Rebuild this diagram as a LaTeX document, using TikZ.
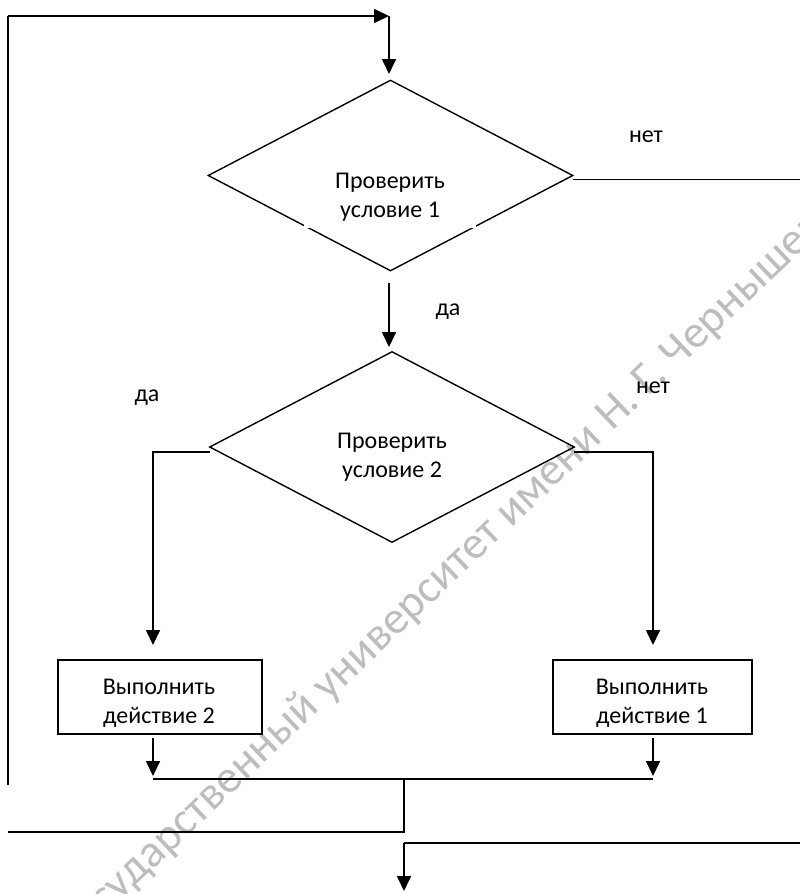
\documentclass[tikz,border=0pt]{standalone}
\usepackage{fontspec}
\setmainfont{Carlito}
\usetikzlibrary{shapes.geometric,arrows.meta,calc}
\begin{document}
\begin{tikzpicture}[x=1pt,y=-1pt,
  line/.style={line width=1.7pt},
  arr/.style={line width=1.7pt,-{Triangle[length=15pt,width=14pt]}},
  cond/.style={diamond,draw,line width=1.4pt,minimum width=365pt,minimum height=191pt,inner sep=0pt},
  act/.style={rectangle,draw,line width=1.7pt,minimum height=74pt},
  lbl/.style={font=\fontsize{24}{29}\selectfont},
  txt/.style={align=center,inner sep=0pt,font=\fontsize{24}{29}\selectfont},
  wm/.style={rotate=43.6,text=black!26,inner sep=0pt,font=\fontsize{46}{46}\selectfont}
]
\useasboundingbox (0,0) rectangle (800,894);
\fill[white] (0,0) rectangle (800,894);

% watermark
\begin{scope}
\clip (0,0) rectangle (800,894);
\node[wm,anchor=base west] (wm2) at (612,432) {Н. Г. Чернышевского};
\node[wm,anchor=base east] (wm1) at (604,440) {Саратовский государственный университет имени};
\end{scope}

% decision 1
\node[cond] (d1) at (390.5,175.5) {};
\fill[white] (304,150) rectangle (476,228);
\node[txt] (t1) at (390,197) {Проверить\\условие 1};

% decision 2
\node[cond] (d2) at (392,447) {};
\node[txt] (t2) at (392,457) {Проверить\\условие 2};

% actions
\node[act,minimum width=204pt] (b2) at (160,697) {};
\node[txt] (b2t) at (159,703) {Выполнить\\действие 2};
\node[act,minimum width=199pt] (b1) at (652.5,697) {};
\node[txt] (b1t) at (652,703) {Выполнить\\действие 1};

% labels
\node[lbl] (no1) at (646,137) {нет};
\node[lbl] (yes1) at (448,312) {да};
\node[lbl] (yes2) at (147,398) {да};
\node[lbl] (no2) at (653,388) {нет};

% loop back at top
\coordinate (lb) at (8,785);
\coordinate (lt) at (8,16);
\coordinate (top) at (389,16);
\coordinate (in1) at (389,74);
\draw[line] (lb) -- (lt);
\draw[arr] (lt) -- (top);
\draw[arr] (top) -- (in1);

% d1 no -> right
\coordinate (d1r) at ($(d1.east)+(-1,4)$);
\coordinate (r1) at (800,179);
\draw[line] (d1r) -- (d1r -| r1);

% d1 yes -> d2
\coordinate (a1s) at (389,283);
\coordinate (a1e) at (389,347);
\draw[arr] (a1s) -- (a1e);

% d2 branches
\coordinate (d2l) at ($(d2.west)+(1,5)$);
\coordinate (d2r) at ($(d2.east)+(-1,5)$);
\coordinate (l2) at (153,645);
\coordinate (r2) at (653,645);
\draw[arr] (d2l) -| (l2);
\draw[arr] (d2r) -| (r2);

% from boxes to junction
\coordinate (l3s) at (153,738);
\coordinate (l3) at (153,776);
\coordinate (r3s) at (653,738);
\coordinate (r3) at (653,776);
\draw[arr] (l3s) -- (l3);
\draw[arr] (r3s) -- (r3);

\coordinate (jl) at (153,779);
\coordinate (jr) at (653,779);
\coordinate (jm) at (404,779);
\draw[line] (jl) -- (jr);
\coordinate (jd) at (404,832);
\coordinate (ll) at (8,832);
\draw[line] (jm) -- (jd) -- (ll);

\coordinate (rr) at (800,843);
\coordinate (bm) at (404,843);
\coordinate (fin) at (404,891);
\draw[line] (rr) -- (bm);
\draw[arr] (bm) -- (fin);
\end{tikzpicture}
\end{document}
